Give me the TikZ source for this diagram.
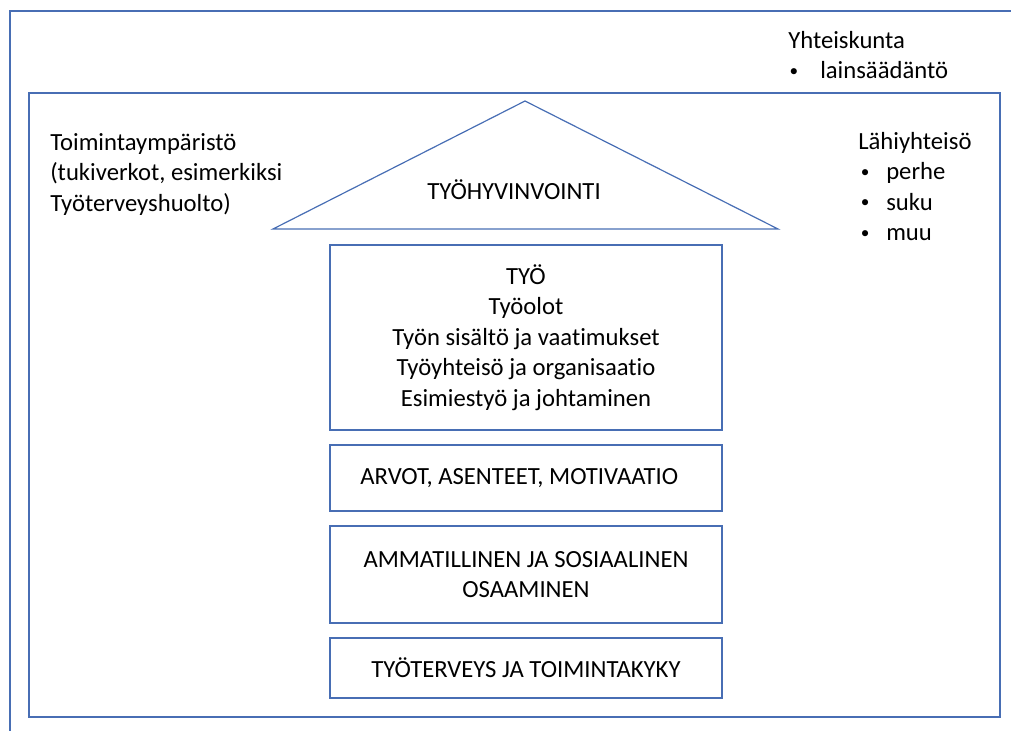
\documentclass[tikz,border=0pt]{standalone}
\usepackage{fontspec}
\setmainfont{Carlito}[Ligatures={NoCommon,NoContextual},Contextuals={NoAlternate}]
\usepackage{tikz}

\definecolor{frame}{RGB}{72,110,180}

\tikzset{
  box/.style={draw=frame, line width=0.9pt, minimum width=294pt, inner sep=0pt, align=center},
  label/.style={inner sep=0pt, anchor=north west, align=left}
}

\newcommand{\listdot}{\raisebox{0.1em}{\scalebox{0.7}{\textbullet}}}
\newcommand{\bul}[1]{\makebox[21pt][l]{\hspace{2pt}\listdot}#1}

\begin{document}
\begin{tikzpicture}[x=0.75pt, y=-0.75pt, font=\fontsize{18.5}{22.9}\selectfont]
    \useasboundingbox (0,0) rectangle (1011,731);
    \clip (0,0) rectangle (1011,731);

    \draw[frame, line width=0.9pt] (10,11) rectangle (1030,750);
    \draw[frame, line width=0.9pt] (29,93) rectangle (1000,717);

    \node[label] (yht) at (788,31) {Yhteiskunta\\\makebox[24pt][l]{\hspace{1pt}\listdot}lainsäädäntö};
    \node[label] (toim) at (50,133) {Toimintaympäristö\\(tukiverkot, esimerkiksi\\Työterveyshuolto)};
    \node[label] (lahi) at (858,132) {Lähiyhteisö\\\bul{perhe}\\\bul{suku}\\\bul{muu}};

    \coordinate (L) at (273,229);
    \coordinate (R) at (778,229);
    \coordinate (T) at (525,101);
    \draw[frame, line width=0.9pt] (L) -- (T) -- (R) -- cycle;
    \node (hyv) at (514,190) {TYÖHYVINVOINTI};

    \node[box, minimum height=138.75pt] (tyo) at (526,337.5)
      {TYÖ\\Työolot\\Työn sisältö ja vaatimukset\\Työyhteisö ja organisaatio\\Esimiestyö ja johtaminen};
    \node[box, minimum height=49.5pt] (arvot) at (526,478) {ARVOT, ASENTEET, MOTIVAATIO\hspace{10pt}};
    \node[box, minimum height=72.75pt] (osaa) at (526,574.5) {AMMATILLINEN JA SOSIAALINEN\\OSAAMINEN};
    \node[box, minimum height=45pt] (terv) at (526,668) {TYÖTERVEYS JA TOIMINTAKYKY};
  \end{tikzpicture}
\end{document}
